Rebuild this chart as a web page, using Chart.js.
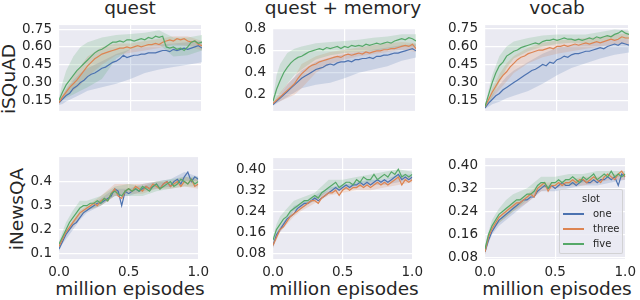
<!DOCTYPE html>
<html>
<head>
<meta charset="utf-8">
<script src="https://cdn.jsdelivr.net/npm/chart.js@4/dist/chart.umd.min.js"></script>
<style>
  body { margin: 0; background: #fff; }
  #wrap { position: relative; width: 640px; height: 300px; overflow: hidden; font-family: 'DejaVu Sans'; color: #262626; }
  canvas { position: absolute; }
  .title { position: absolute; font-size: 18.5px; line-height: 20px; white-space: nowrap; transform: translateX(-50%); }
  .ylab { position: absolute; font-size: 18.5px; line-height: 20px; white-space: nowrap; transform: translate(-50%, -50%) rotate(-90deg); }
  #legend { position: absolute; left: 559px; top: 189px; width: 64px; height: 65px; box-sizing: border-box;
            background: rgba(234,234,242,0.8); border: 1px solid rgba(204,204,204,0.8); border-radius: 2px;
            font-size: 10px; line-height: 15px; }
  #legend .head { text-align: center; padding-top: 1px; }
  #legend .item { position: relative; padding-left: 33px; }
  #legend .item span { position: absolute; left: 3px; top: 7px; width: 21px; height: 2px; }
</style>
</head>
<body>
<div id="wrap">
  <div class="title" style="left:130px; top:-2px">quest</div>
  <div class="title" style="left:343px; top:-2px">quest + memory</div>
  <div class="title" style="left:557px; top:-2px">vocab</div>
  <div class="ylab" style="left:9px; top:79px">iSQuAD</div>
  <div class="ylab" style="left:17px; top:209px">iNewsQA</div>
  <div class="title" style="left:130px; top:279px">million episodes</div>
  <div class="title" style="left:344px; top:279px">million episodes</div>
  <div class="title" style="left:557px; top:279px">million episodes</div>
  <div id="legend">
    <div class="head">slot</div>
    <div class="item"><span style="background:#4C72B0"></span>one</div>
    <div class="item"><span style="background:#DD8452"></span>three</div>
    <div class="item"><span style="background:#55A868"></span>five</div>
  </div>
</div>
<script>
// x positions of the curves (million episodes)
const episodes = [0, 0.025, 0.05, 0.075, 0.1, 0.125, 0.15, 0.175, 0.2, 0.225, 0.25, 0.275, 0.3, 0.325, 0.35, 0.375, 0.4,
  0.425, 0.45, 0.475, 0.5, 0.525, 0.55, 0.575, 0.6, 0.625, 0.65, 0.675, 0.7, 0.725, 0.75, 0.775, 0.8, 0.825, 0.85,
  0.875, 0.9, 0.925, 0.95, 0.975, 1.0];
// x positions of the confidence bands
const bandEpisodes = [0, 0.025, 0.05, 0.1, 0.15, 0.2, 0.3, 0.4, 0.5, 0.6, 0.7, 0.8, 0.9, 1.0];

const slots = ['one', 'three', 'five'];
const xTicks = ['0.0', '0.5', '1.0'];
const squadTicks = ['0.15', '0.30', '0.45', '0.60', '0.75'];
const squadMemoryTicks = ['0.2', '0.4', '0.6', '0.8'];
const newsQuestTicks = ['0.1', '0.2', '0.3', '0.4'];
const newsTicks = ['0.08', '0.16', '0.24', '0.32', '0.40'];

// iSQuAD - quest
const squadQuestOne = [0.13,0.16,0.19,0.21,0.25,0.27,0.30,0.32,0.35,0.37,0.38,0.40,0.42,0.43,0.45,0.47,0.48,0.50,0.53,0.51,0.52,0.53,0.53,0.54,0.54,0.55,0.55,0.55,0.56,0.57,0.57,0.56,0.58,0.57,0.58,0.59,0.58,0.59,0.60,0.61,0.59];
const squadQuestThree = [0.13,0.18,0.22,0.26,0.29,0.32,0.36,0.40,0.44,0.47,0.50,0.52,0.54,0.55,0.56,0.57,0.58,0.59,0.59,0.60,0.59,0.60,0.61,0.60,0.61,0.62,0.62,0.63,0.62,0.64,0.65,0.66,0.65,0.67,0.66,0.67,0.65,0.64,0.65,0.62,0.61];
const squadQuestFive = [0.15,0.22,0.28,0.32,0.36,0.40,0.43,0.46,0.49,0.52,0.55,0.57,0.58,0.60,0.62,0.64,0.64,0.65,0.64,0.66,0.66,0.65,0.66,0.67,0.66,0.68,0.67,0.69,0.68,0.69,0.60,0.59,0.60,0.58,0.59,0.57,0.60,0.64,0.65,0.63,0.64];
const squadQuestOneLo = [0.11,0.12,0.14,0.17,0.20,0.23,0.26,0.29,0.33,0.38,0.41,0.43,0.45,0.47];
const squadQuestOneHi = [0.15,0.19,0.24,0.32,0.38,0.42,0.48,0.54,0.58,0.60,0.62,0.63,0.64,0.65];
const squadQuestThreeLo = [0.12,0.16,0.19,0.23,0.28,0.35,0.45,0.53,0.55,0.57,0.59,0.62,0.61,0.57];
const squadQuestThreeHi = [0.14,0.20,0.25,0.35,0.44,0.52,0.60,0.63,0.63,0.65,0.67,0.69,0.69,0.65];
const squadQuestFiveLo = [0.13,0.15,0.17,0.20,0.23,0.26,0.33,0.50,0.58,0.60,0.62,0.52,0.53,0.57];
const squadQuestFiveHi = [0.17,0.30,0.40,0.52,0.60,0.64,0.68,0.70,0.71,0.72,0.74,0.68,0.68,0.70];

// iSQuAD - quest + memory
const squadMemoryOne = [0.11,0.14,0.17,0.20,0.23,0.26,0.29,0.32,0.35,0.37,0.39,0.41,0.43,0.44,0.45,0.47,0.48,0.47,0.49,0.50,0.50,0.51,0.50,0.52,0.52,0.53,0.53,0.54,0.53,0.55,0.55,0.56,0.56,0.57,0.58,0.58,0.59,0.60,0.61,0.62,0.60];
const squadMemoryThree = [0.12,0.15,0.18,0.21,0.24,0.27,0.30,0.35,0.39,0.42,0.45,0.47,0.48,0.50,0.51,0.52,0.53,0.54,0.55,0.54,0.56,0.57,0.56,0.57,0.58,0.57,0.59,0.58,0.59,0.60,0.60,0.61,0.61,0.62,0.62,0.63,0.64,0.65,0.64,0.66,0.62];
const squadMemoryFive = [0.14,0.25,0.33,0.40,0.45,0.49,0.52,0.54,0.55,0.57,0.59,0.60,0.61,0.62,0.61,0.63,0.62,0.63,0.64,0.62,0.64,0.63,0.65,0.64,0.65,0.64,0.66,0.65,0.66,0.67,0.66,0.67,0.68,0.67,0.69,0.70,0.71,0.70,0.72,0.71,0.69];
const squadMemoryOneLo = [0.10,0.12,0.14,0.18,0.22,0.26,0.29,0.31,0.35,0.40,0.43,0.46,0.51,0.54];
const squadMemoryOneHi = [0.12,0.16,0.20,0.29,0.36,0.42,0.50,0.54,0.57,0.59,0.61,0.63,0.65,0.66];
const squadMemoryThreeLo = [0.11,0.13,0.14,0.17,0.20,0.26,0.40,0.48,0.52,0.55,0.57,0.59,0.61,0.59];
const squadMemoryThreeHi = [0.13,0.18,0.22,0.30,0.36,0.48,0.55,0.59,0.61,0.63,0.65,0.67,0.68,0.67];
const squadMemoryFiveLo = [0.12,0.16,0.20,0.30,0.38,0.43,0.52,0.56,0.58,0.59,0.60,0.62,0.64,0.64];
const squadMemoryFiveHi = [0.16,0.38,0.48,0.58,0.62,0.64,0.67,0.68,0.69,0.70,0.72,0.73,0.75,0.75];

// iSQuAD - vocab
const squadVocabOne = [0.09,0.13,0.16,0.19,0.21,0.24,0.26,0.28,0.30,0.32,0.34,0.36,0.38,0.40,0.41,0.43,0.45,0.44,0.47,0.46,0.49,0.50,0.52,0.51,0.53,0.54,0.54,0.55,0.56,0.56,0.57,0.58,0.59,0.58,0.60,0.61,0.62,0.61,0.63,0.62,0.61];
const squadVocabThree = [0.10,0.16,0.22,0.27,0.32,0.36,0.39,0.43,0.46,0.49,0.51,0.52,0.54,0.55,0.56,0.57,0.57,0.58,0.59,0.58,0.60,0.60,0.61,0.60,0.61,0.62,0.61,0.62,0.63,0.62,0.63,0.64,0.63,0.64,0.65,0.66,0.65,0.66,0.68,0.67,0.67];
const squadVocabFive = [0.10,0.20,0.30,0.38,0.44,0.47,0.52,0.54,0.56,0.57,0.59,0.60,0.61,0.62,0.63,0.62,0.64,0.65,0.65,0.66,0.65,0.66,0.67,0.66,0.66,0.65,0.66,0.65,0.66,0.67,0.66,0.68,0.67,0.68,0.69,0.68,0.70,0.71,0.73,0.71,0.70];
const squadVocabOneLo = [0.08,0.10,0.12,0.14,0.17,0.19,0.23,0.29,0.36,0.42,0.46,0.50,0.53,0.55];
const squadVocabOneHi = [0.10,0.15,0.20,0.28,0.35,0.40,0.47,0.54,0.59,0.61,0.62,0.64,0.66,0.66];
const squadVocabThreeLo = [0.09,0.13,0.17,0.24,0.31,0.38,0.46,0.51,0.54,0.56,0.58,0.60,0.62,0.62];
const squadVocabThreeHi = [0.11,0.17,0.25,0.37,0.46,0.52,0.59,0.63,0.65,0.66,0.67,0.68,0.70,0.71];
const squadVocabFiveLo = [0.09,0.13,0.18,0.30,0.42,0.50,0.56,0.60,0.62,0.63,0.62,0.64,0.66,0.66];
const squadVocabFiveHi = [0.11,0.24,0.36,0.52,0.60,0.64,0.67,0.69,0.70,0.70,0.70,0.72,0.74,0.73];

// iNewsQA - quest
const newsQuestOne = [0.12,0.15,0.18,0.20,0.22,0.23,0.25,0.27,0.28,0.29,0.30,0.31,0.31,0.32,0.33,0.34,0.37,0.36,0.30,0.36,0.35,0.36,0.37,0.36,0.37,0.38,0.37,0.38,0.39,0.37,0.39,0.40,0.38,0.40,0.41,0.39,0.42,0.44,0.40,0.42,0.41];
const newsQuestThree = [0.13,0.16,0.19,0.21,0.23,0.25,0.27,0.28,0.29,0.30,0.31,0.30,0.32,0.33,0.32,0.35,0.37,0.34,0.33,0.36,0.37,0.36,0.38,0.37,0.36,0.38,0.37,0.39,0.38,0.37,0.39,0.40,0.38,0.39,0.40,0.38,0.40,0.39,0.41,0.38,0.39];
const newsQuestFive = [0.14,0.17,0.20,0.23,0.25,0.27,0.29,0.30,0.30,0.31,0.31,0.32,0.31,0.33,0.32,0.35,0.36,0.35,0.34,0.36,0.37,0.36,0.37,0.36,0.38,0.37,0.36,0.38,0.39,0.37,0.38,0.39,0.40,0.38,0.39,0.41,0.40,0.39,0.41,0.39,0.40];
const newsQuestOneLo = [0.11,0.14,0.16,0.20,0.24,0.27,0.30,0.34,0.34,0.36,0.37,0.38,0.40,0.40];
const newsQuestOneHi = [0.13,0.16,0.19,0.23,0.26,0.29,0.33,0.37,0.37,0.39,0.40,0.41,0.44,0.42];
const newsQuestThreeLo = [0.12,0.15,0.18,0.21,0.25,0.28,0.30,0.34,0.35,0.35,0.37,0.37,0.38,0.37];
const newsQuestThreeHi = [0.14,0.17,0.20,0.24,0.28,0.30,0.34,0.39,0.39,0.39,0.40,0.40,0.42,0.41];
const newsQuestFiveLo = [0.13,0.16,0.18,0.22,0.26,0.28,0.30,0.34,0.34,0.34,0.36,0.37,0.38,0.38];
const newsQuestFiveHi = [0.15,0.19,0.23,0.28,0.32,0.32,0.34,0.38,0.39,0.38,0.40,0.41,0.42,0.42];

// iNewsQA - quest + memory
const newsMemoryOne = [0.11,0.15,0.17,0.19,0.21,0.22,0.23,0.25,0.26,0.27,0.27,0.28,0.29,0.28,0.29,0.30,0.31,0.32,0.33,0.32,0.33,0.34,0.33,0.34,0.34,0.35,0.34,0.35,0.34,0.35,0.36,0.35,0.36,0.35,0.36,0.37,0.38,0.36,0.37,0.36,0.37];
const newsMemoryThree = [0.11,0.14,0.17,0.18,0.20,0.22,0.23,0.24,0.25,0.26,0.27,0.28,0.28,0.27,0.29,0.30,0.31,0.31,0.32,0.30,0.32,0.33,0.32,0.33,0.33,0.34,0.33,0.34,0.33,0.34,0.35,0.34,0.35,0.34,0.35,0.36,0.37,0.34,0.36,0.35,0.36];
const newsMemoryFive = [0.13,0.17,0.19,0.21,0.22,0.24,0.25,0.26,0.27,0.28,0.28,0.29,0.30,0.29,0.31,0.32,0.33,0.34,0.35,0.33,0.34,0.35,0.35,0.34,0.36,0.35,0.37,0.36,0.36,0.38,0.36,0.37,0.38,0.37,0.39,0.38,0.40,0.37,0.38,0.37,0.38];
const newsMemoryOneLo = [0.10,0.14,0.16,0.20,0.24,0.25,0.28,0.31,0.32,0.33,0.34,0.34,0.35,0.36];
const newsMemoryOneHi = [0.12,0.16,0.18,0.22,0.26,0.27,0.30,0.33,0.34,0.35,0.36,0.36,0.38,0.38];
const newsMemoryThreeLo = [0.10,0.13,0.16,0.19,0.22,0.24,0.27,0.30,0.31,0.32,0.32,0.33,0.34,0.35];
const newsMemoryThreeHi = [0.12,0.15,0.18,0.21,0.24,0.26,0.29,0.32,0.33,0.34,0.35,0.35,0.37,0.37];
const newsMemoryFiveLo = [0.12,0.15,0.18,0.21,0.24,0.26,0.28,0.32,0.33,0.34,0.35,0.36,0.37,0.37];
const newsMemoryFiveHi = [0.14,0.19,0.22,0.25,0.28,0.29,0.31,0.36,0.36,0.37,0.38,0.39,0.40,0.39];

// iNewsQA - vocab
const newsVocabOne = [0.10,0.14,0.17,0.19,0.21,0.22,0.23,0.24,0.25,0.26,0.27,0.28,0.28,0.29,0.29,0.31,0.32,0.33,0.32,0.33,0.32,0.33,0.34,0.33,0.33,0.34,0.33,0.34,0.35,0.34,0.34,0.35,0.34,0.35,0.35,0.36,0.35,0.36,0.33,0.37,0.36];
const newsVocabThree = [0.10,0.15,0.18,0.20,0.22,0.23,0.24,0.25,0.26,0.27,0.27,0.28,0.29,0.30,0.29,0.32,0.33,0.34,0.31,0.33,0.33,0.34,0.33,0.34,0.34,0.35,0.34,0.35,0.35,0.34,0.35,0.36,0.35,0.34,0.36,0.37,0.36,0.35,0.37,0.38,0.36];
const newsVocabFive = [0.11,0.16,0.19,0.21,0.23,0.24,0.25,0.26,0.27,0.28,0.28,0.29,0.30,0.30,0.31,0.33,0.34,0.34,0.32,0.34,0.34,0.35,0.34,0.35,0.35,0.36,0.35,0.34,0.36,0.35,0.36,0.37,0.35,0.36,0.37,0.36,0.38,0.36,0.37,0.36,0.37];
const newsVocabOneLo = [0.09,0.13,0.16,0.19,0.21,0.23,0.27,0.31,0.31,0.32,0.33,0.33,0.34,0.35];
const newsVocabOneHi = [0.11,0.15,0.18,0.21,0.23,0.26,0.29,0.33,0.33,0.34,0.35,0.35,0.36,0.37];
const newsVocabThreeLo = [0.09,0.14,0.17,0.20,0.22,0.24,0.27,0.31,0.32,0.33,0.33,0.34,0.35,0.35];
const newsVocabThreeHi = [0.11,0.16,0.19,0.22,0.25,0.27,0.30,0.34,0.34,0.35,0.36,0.36,0.37,0.37];
const newsVocabFiveLo = [0.10,0.15,0.18,0.20,0.22,0.24,0.28,0.32,0.33,0.33,0.34,0.35,0.36,0.36];
const newsVocabFiveHi = [0.12,0.17,0.21,0.25,0.28,0.30,0.32,0.36,0.36,0.37,0.37,0.38,0.38,0.38];

const lineColors = ['#4C72B0', '#DD8452', '#55A868'];
const bandColors = ['rgba(76,114,176,0.2)', 'rgba(221,132,82,0.2)', 'rgba(85,168,104,0.2)'];

// plot-area rectangles in page pixels, plus axis ranges
const panels = [
  { x: 59, y: 20, w: 143, h: 106, yMin: 0.061, yMax: 0.784, yTicks: squadTicks, bottom: false,
    series: [[squadQuestOne, squadQuestOneLo, squadQuestOneHi], [squadQuestThree, squadQuestThreeLo, squadQuestThreeHi], [squadQuestFive, squadQuestFiveLo, squadQuestFiveHi]] },
  { x: 273, y: 23, w: 143, h: 103, yMin: 0.053, yMax: 0.807, yTicks: squadMemoryTicks, bottom: false,
    series: [[squadMemoryOne, squadMemoryOneLo, squadMemoryOneHi], [squadMemoryThree, squadMemoryThreeLo, squadMemoryThreeHi], [squadMemoryFive, squadMemoryFiveLo, squadMemoryFiveHi]] },
  { x: 485, y: 20, w: 144, h: 106, yMin: 0.065, yMax: 0.777, yTicks: squadTicks, bottom: false,
    series: [[squadVocabOne, squadVocabOneLo, squadVocabOneHi], [squadVocabThree, squadVocabThreeLo, squadVocabThreeHi], [squadVocabFive, squadVocabFiveLo, squadVocabFiveHi]] },
  { x: 59, y: 152, w: 143, h: 107, yMin: 0.078, yMax: 0.502, yTicks: newsQuestTicks, bottom: true,
    series: [[newsQuestOne, newsQuestOneLo, newsQuestOneHi], [newsQuestThree, newsQuestThreeLo, newsQuestThreeHi], [newsQuestFive, newsQuestFiveLo, newsQuestFiveHi]] },
  { x: 273, y: 153, w: 143, h: 106, yMin: 0.058, yMax: 0.442, yTicks: newsTicks, bottom: true,
    series: [[newsMemoryOne, newsMemoryOneLo, newsMemoryOneHi], [newsMemoryThree, newsMemoryThreeLo, newsMemoryThreeHi], [newsMemoryFive, newsMemoryFiveLo, newsMemoryFiveHi]] },
  { x: 485, y: 153, w: 144, h: 106, yMin: 0.075, yMax: 0.425, yTicks: newsTicks, bottom: true,
    series: [[newsVocabOne, newsVocabOneLo, newsVocabOneHi], [newsVocabThree, newsVocabThreeLo, newsVocabThreeHi], [newsVocabFive, newsVocabFiveLo, newsVocabFiveHi]] }
];

Chart.defaults.font.family = 'DejaVu Sans';
Chart.defaults.color = '#262626';

const YW = 50, PT = 10, PR = 12, XH = 30;

// seaborn-style grey plot background
const plotBg = {
  id: 'plotBg',
  beforeDraw(chart) {
    const { ctx, chartArea: a } = chart;
    ctx.save();
    ctx.fillStyle = '#EAEAF2';
    ctx.fillRect(a.left, a.top, a.right - a.left, a.bottom - a.top);
    ctx.restore();
  }
};

const wrap = document.getElementById('wrap');

panels.forEach(p => {
  const cv = document.createElement('canvas');
  cv.width = YW + p.w + PR;
  cv.height = PT + p.h + (p.bottom ? XH : 0);
  cv.style.left = (p.x - YW) + 'px';
  cv.style.top = (p.y - PT) + 'px';
  wrap.insertBefore(cv, document.getElementById('legend'));

  const datasets = [];
  p.series.forEach(([mean, lo, hi], k) => {
    datasets.push({ data: bandEpisodes.map((x, i) => ({ x, y: lo[i] })), borderWidth: 0, pointRadius: 0, fill: false, order: 9 - k });
    datasets.push({ data: bandEpisodes.map((x, i) => ({ x, y: hi[i] })), borderWidth: 0, pointRadius: 0, fill: '-1',
                    backgroundColor: bandColors[k], order: 9 - k });
  });
  p.series.forEach(([mean], k) => {
    datasets.push({ label: slots[k], data: episodes.map((x, i) => ({ x, y: mean[i] })), borderColor: lineColors[k],
                    borderWidth: 1.2, pointRadius: 0, fill: false, order: 3 - k });
  });

  new Chart(cv, {
    type: 'line',
    data: { datasets },
    plugins: [plotBg],
    options: {
      responsive: false,
      animation: false,
      devicePixelRatio: 1,
      layout: { padding: { top: PT, right: PR, left: 0, bottom: 0 } },
      plugins: { legend: { display: false }, title: { display: false }, tooltip: { enabled: false } },
      scales: {
        x: {
          type: 'linear', min: 0, max: 1,
          afterBuildTicks: s => { s.ticks = xTicks.map(v => ({ value: +v })); },
          afterFit: s => { s.height = p.bottom ? XH : 0; },
          ticks: { display: p.bottom, autoSkip: false, maxRotation: 0, padding: 5, font: { size: 13.5 },
                   callback: (v, i) => xTicks[i] },
          grid: { color: '#ffffff', lineWidth: 1.2, drawTicks: false },
          border: { display: false }
        },
        y: {
          type: 'linear', min: p.yMin, max: p.yMax,
          afterBuildTicks: s => { s.ticks = p.yTicks.map(v => ({ value: +v })); },
          afterFit: s => { s.width = YW; },
          ticks: { autoSkip: false, padding: 7, font: { size: 13.5 }, callback: (v, i) => p.yTicks[i] },
          grid: { color: '#ffffff', lineWidth: 1.2, drawTicks: false },
          border: { display: false }
        }
      }
    }
  });
});
</script>
</body>
</html>
